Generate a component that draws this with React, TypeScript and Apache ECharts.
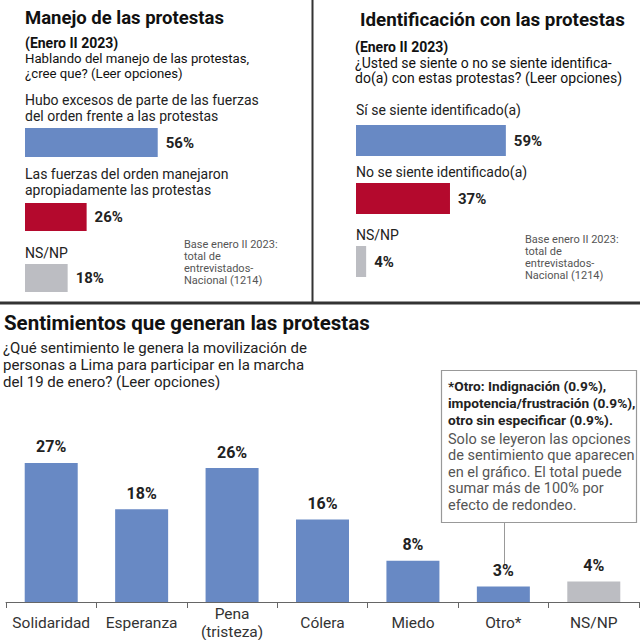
import React, { useEffect, useRef } from "react";
import * as echarts from "echarts";

// ---- Data ----
const manejoCategories = [
  "Hubo excesos de parte de las fuerzas\ndel orden frente a las protestas",
  "Las fuerzas del orden manejaron\napropiadamente las protestas",
  "NS/NP",
];
const manejoValues = [56, 26, 18];

const identCategories = [
  "Sí se siente identificado(a)",
  "No se siente identificado(a)",
  "NS/NP",
];
const identValues = [59, 37, 4];

const sentCategories = [
  "Solidaridad",
  "Esperanza",
  "Pena\n(tristeza)",
  "Cólera",
  "Miedo",
  "Otro*",
  "NS/NP",
];
const sentValues = [27, 18, 26, 16, 8, 3, 4];

// ---- Styles ----
const FONT = "Roboto, 'Noto Sans', sans-serif";
const BLUE = "#6889c4";
const RED = "#b4092d";
const GRAY = "#bcbdc2";
const panelColors = [BLUE, RED, GRAY];
const TEXT = "#222";

export default function App() {
  const ref = useRef<HTMLDivElement>(null);

  useEffect(() => {
    const chart = echarts.init(ref.current!, null, { renderer: "svg" });

    const grids: any[] = [];
    const xAxes: any[] = [];
    const yAxes: any[] = [];
    const series: any[] = [];

    const addPanel = (
      cats: string[],
      vals: number[],
      left: number,
      width: number,
      tops: number[],
      heights: number[],
      gaps: number[]
    ) => {
      cats.forEach((cat, i) => {
        const g = grids.length;
        grids.push({
          left,
          width,
          top: tops[i],
          height: heights[i],
          outerBoundsMode: "none",
          containLabel: false,
        });
        xAxes.push({ type: "value", gridIndex: g, min: 0, max: 100, show: false });
        yAxes.push({
          type: "category",
          gridIndex: g,
          data: [cat],
          axisLine: { show: false },
          axisTick: { show: false },
          axisLabel: { show: false },
          splitLine: { show: false },
          name: cat,
          nameLocation: "end",
          nameGap: gaps[i],
          nameMoveOverlap: false,
          nameTextStyle: {
            align: "left",
            verticalAlign: "bottom",
            fontSize: 14,
            lineHeight: 16,
            color: TEXT,
            fontFamily: FONT,
            padding: 0,
          },
        });
        series.push({
          type: "bar",
          xAxisIndex: g,
          yAxisIndex: g,
          silent: true,
          barWidth: "100%",
          data: [{ value: vals[i], itemStyle: { color: panelColors[i] } }],
          label: {
            show: true,
            position: "right",
            distance: 8,
            formatter: "{c}%",
            fontWeight: "bold",
            fontSize: 15,
            color: TEXT,
            fontFamily: FONT,
          },
        });
      });
    };

    addPanel(manejoCategories, manejoValues, 25, 237, [128, 203, 264], [29, 28, 28], [4, 5, 3]);
    addPanel(identCategories, identValues, 356, 254, [125, 183, 246], [31, 31, 31], [7, 3, 3]);

    // bottom chart
    const gb = grids.length;
    grids.push({ left: 6, right: 1, top: 447.5, bottom: 38, outerBoundsMode: "none", containLabel: false });
    xAxes.push({
      type: "category",
      gridIndex: gb,
      data: sentCategories,
      axisLine: { show: true, lineStyle: { color: "#666", width: 1 } },
      axisTick: { show: true, length: 6, lineStyle: { color: "#666", width: 1 } },
      axisLabel: {
        interval: 0,
        margin: 21,
        verticalAlign: "middle",
        fontSize: 15.5,
        lineHeight: 18,
        color: "#333",
        fontFamily: FONT,
      },
    });
    yAxes.push({ type: "value", gridIndex: gb, min: 0, max: 30, show: false });
    series.push({
      type: "bar",
      xAxisIndex: gb,
      yAxisIndex: gb,
      silent: true,
      barWidth: 53,
      data: sentValues.map((v, i) => ({
        value: v,
        itemStyle: { color: sentCategories[i] === "NS/NP" ? GRAY : BLUE },
      })),
      label: {
        show: true,
        position: "top",
        distance: 8,
        formatter: "{c}%",
        fontWeight: "bold",
        fontSize: 16,
        color: TEXT,
        fontFamily: FONT,
      },
    });

    const txt = (
      x: number,
      y: number,
      text: string,
      fontSize: number,
      opts: any = {}
    ) => ({
      type: "text",
      x,
      y,
      silent: true,
      style: {
        text,
        fontSize,
        fontFamily: FONT,
        fontWeight: opts.bold ? "bold" : "normal",
        fill: opts.fill || TEXT,
        lineHeight: opts.lineHeight || fontSize + 2,
        verticalAlign: "top",
        align: "left",
      },
    });

    const graphic: any[] = [
      // dividers
      { type: "line", silent: true, shape: { x1: 312.5, y1: 0, x2: 312.5, y2: 302 }, style: { stroke: "#333", lineWidth: 2 } },
      { type: "line", silent: true, shape: { x1: 0, y1: 303, x2: 640, y2: 303 }, style: { stroke: "#333", lineWidth: 3 } },
      // left panel
      txt(25, 7, "Manejo de las protestas", 18.5, { bold: true, fill: "#111", lineHeight: 22 }),
      txt(25, 35.5, "(Enero II 2023)", 14, { bold: true, fill: "#111", lineHeight: 15 }),
      txt(25, 50.5, "Hablando del manejo de las protestas,\n¿cree que? (Leer opciones)", 13.2, { fill: "#111", lineHeight: 15 }),
      txt(184, 238, "Base enero II 2023:\ntotal de\nentrevistados-\nNacional (1214)", 11, { fill: "#555", lineHeight: 12 }),
      // right panel
      txt(360, 9, "Identificación con las protestas", 18.8, { bold: true, fill: "#111", lineHeight: 22 }),
      txt(355, 39.5, "(Enero II 2023)", 14, { bold: true, fill: "#111", lineHeight: 15 }),
      txt(355, 55.5, "¿Usted se siente o no se siente identifica-\ndo(a) con estas protestas? (Leer opciones)", 14, { fill: "#111", lineHeight: 15 }),
      txt(525, 233, "Base enero II 2023:\ntotal de\nentrevistados-\nNacional (1214)", 11, { fill: "#555", lineHeight: 12 }),
      // bottom
      txt(4, 311, "Sentimientos que generan las protestas", 20.5, { bold: true, fill: "#111", lineHeight: 24 }),
      txt(3, 339.5, "¿Qué sentimiento le genera la movilización de\npersonas a Lima para participar en la marcha\ndel 19 de enero? (Leer opciones)", 15, { fill: TEXT, lineHeight: 17 }),
      // note box
      { type: "line", silent: true, shape: { x1: 504.5, y1: 523, x2: 504.5, y2: 565 }, style: { stroke: "#999", lineWidth: 1 } },
      { type: "rect", silent: true, shape: { x: 441.5, y: 370.5, width: 195, height: 152 }, style: { fill: "#fff", stroke: "#999", lineWidth: 1.2 } },
      txt(448, 377.5, "*Otro: Indignación (0.9%),\nimpotencia/frustración (0.9%),\notro sin especificar (0.9%).", 13.7, { bold: true, fill: "#222", lineHeight: 17 }),
      txt(448, 430.75, "Solo se leyeron las opciones\nde sentimiento que aparecen\nen el gráfico. El total puede\nsumar más de 100% por\nefecto de redondeo.", 14.5, { fill: "#555", lineHeight: 16.5 }),
    ];

    chart.setOption({
      animation: false,
      backgroundColor: "#fff",
      textStyle: { fontFamily: FONT },
      grid: grids,
      xAxis: xAxes,
      yAxis: yAxes,
      series,
      graphic,
    });

    return () => chart.dispose();
  }, []);

  return (
    <div
      ref={ref}
      style={{ position: "fixed", left: 0, top: 0, width: 640, height: 640, background: "#fff" }}
    />
  );
}
